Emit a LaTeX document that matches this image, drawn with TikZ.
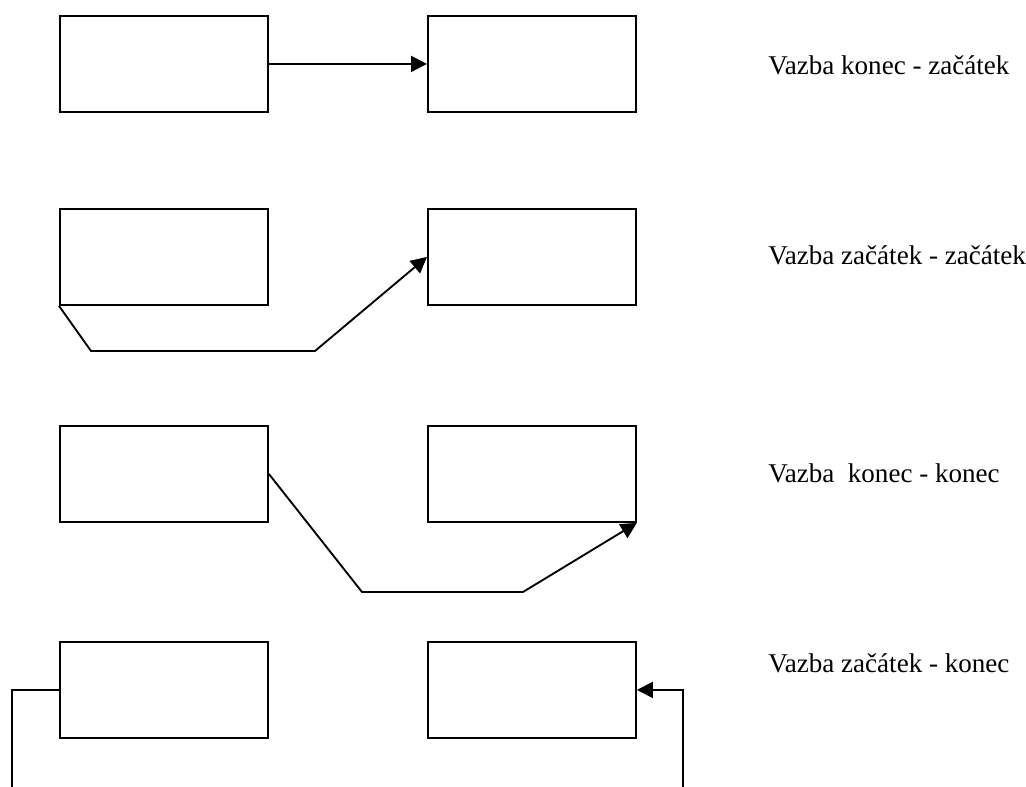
\documentclass[tikz,border=0pt]{standalone}
\usepackage{fontspec}
\setmainfont{Liberation Serif}
\usetikzlibrary{arrows.meta}
\begin{document}
\begin{tikzpicture}[x=0.75pt,y=-0.75pt,
  box/.style={draw,line width=1.4pt,rectangle,minimum width=156pt,minimum height=72pt,inner sep=0pt,anchor=north west},
  conn/.style={line width=1.4pt},
  arr/.style={conn,-{Triangle[length=12pt,width=12pt]}},
  lbl/.style={anchor=base west,inner sep=0pt,font=\fontsize{20.3}{24}\selectfont}]
\useasboundingbox (0,0) rectangle (1026,787);
% boxes
\node[box] (a1) at (59,15) {};
\node[box] (b1) at (427,15) {};
\node[box] (a2) at (59,208) {};
\node[box] (b2) at (427,208) {};
\node[box] (a3) at (59,425) {};
\node[box] (b3) at (427,425) {};
\node[box] (a4) at (59,641) {};
\node[box] (b4) at (427,641) {};
% labels
\node[lbl] (t1) at (768,75) {Vazba konec - začátek};
\node[lbl] (t2) at (768,265) {Vazba začátek - začátek};
\node[lbl] (t3) at (768,483) {Vazba\ \ konec - konec};
\node[lbl] (t4) at (768,673) {Vazba začátek - konec};
% bend coordinates
\coordinate (p21) at (91,351);
\coordinate (p22) at (315,351);
\coordinate (p31) at (362,592);
\coordinate (p32) at (523,592);
\coordinate (p42) at (12,790);
\coordinate (p43) at (683,790);
% connectors
\draw[arr] (a1.east) -- (b1.west);
\draw[arr] (a2.south west) -- (p21) -- (p22) -- (b2.west);
\draw[arr] (a3.east) -- (p31) -- (p32) -- (b3.south east);
\draw[conn] (a4.west) -- (a4.west -| p42) -- (p42);
\draw[arr] (p43) -- (p43 |- b4.east) -- (b4.east);
\end{tikzpicture}
\end{document}
